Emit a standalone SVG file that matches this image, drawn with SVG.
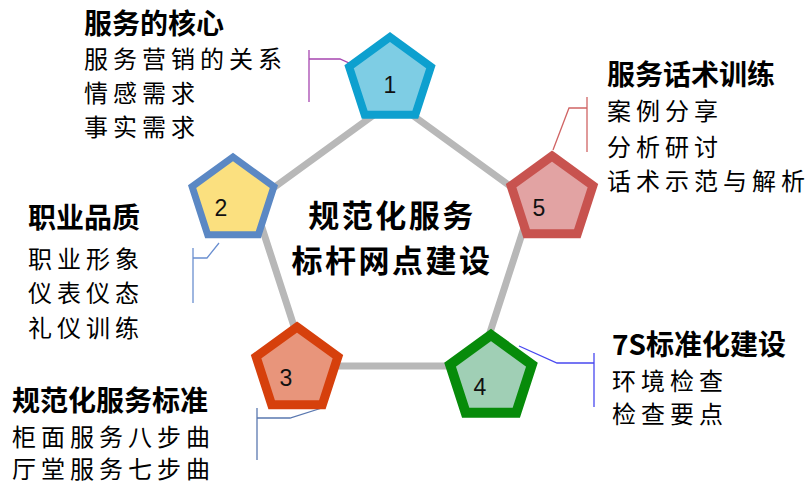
<svg xmlns="http://www.w3.org/2000/svg" xmlns:xlink="http://www.w3.org/1999/xlink" width="812" height="488" viewBox="0 0 812 488">
  <defs>
    <path id="pent" d="M0,-43 L40.9,-13.3 L25.3,34.8 L-25.3,34.8 L-40.9,-13.3 Z"/>
  </defs>
  <style>
    .num { font-family: "Liberation Sans", Arial, sans-serif; font-size: 23px; fill: #111; text-anchor: middle; }
    .title { font-family: "Noto Sans CJK SC", "Liberation Sans", sans-serif; font-size: 28px; font-weight: bold; fill: #000; }
    .sub { font-family: "Noto Sans CJK SC", sans-serif; font-size: 24px; fill: #000; letter-spacing: 5px; }
    .center { font-family: "Noto Sans CJK SC", sans-serif; font-size: 31px; font-weight: bold; fill: #000; text-anchor: middle; letter-spacing: 2.5px; }
    .ring { fill: none; stroke: #B8B8B8; stroke-width: 7; }
    .call { fill: none; stroke-width: 1.3; }
    use { stroke-linejoin: miter; }
  </style>
  <rect width="812" height="488" fill="#FFFFFF"/>

  <g id="connectors">
    <polygon class="ring" points="393,101 532.3,202.2 479.1,366 306.9,366 253.7,202.2"/>
    <polyline class="call" stroke="#A646B0" points="373,74 340,59 309,59"/>
    <line class="call" stroke="#A646B0" x1="309" y1="50" x2="309" y2="102"/>
    <polyline class="call" stroke="#6A8FD0" points="219,243 207,258 193,258"/>
    <line class="call" stroke="#6A8FD0" x1="193" y1="248" x2="193" y2="303"/>
    <polyline class="call" stroke="#5A78B0" points="325,407 290,418 257,418"/>
    <line class="call" stroke="#5A78B0" x1="257" y1="408" x2="257" y2="460"/>
    <polyline class="call" stroke="#4848F0" points="519,346 557,363 594,363"/>
    <line class="call" stroke="#4848F0" x1="594" y1="353" x2="594" y2="407"/>
    <polyline class="call" stroke="#D06464" points="553,150 569,108 587,108"/>
    <line class="call" stroke="#D06464" x1="587" y1="97" x2="587" y2="152"/>
  </g>

  <g id="center-title">
    <text class="center" x="392" y="227">规范化服务</text>
    <text class="center" x="392" y="272">标杆网点建设</text>
  </g>

  <g id="node1">
    <use href="#pent" x="390" y="80" fill="#7ECDE4" stroke="#0DA0CF" stroke-width="8"/>
    <text class="num" x="390" y="93">1</text>
    <text class="title" x="84" y="34">服务的核心</text>
    <text class="sub" x="84" y="68">服务营销的关系</text>
    <text class="sub" x="84" y="102">情感需求</text>
    <text class="sub" x="84" y="136">事实需求</text>
  </g>

  <g id="node2">
    <use href="#pent" x="233" y="200" fill="#FBE07F" stroke="#5B88C4" stroke-width="7"/>
    <text class="num" x="221" y="216">2</text>
    <text class="title" x="28" y="228">职业品质</text>
    <text class="sub" x="28" y="268">职业形象</text>
    <text class="sub" x="28" y="302">仪表仪态</text>
    <text class="sub" x="28" y="337">礼仪训练</text>
  </g>

  <g id="node3">
    <use href="#pent" x="297" y="370" fill="#E8957B" stroke="#D6400C" stroke-width="9"/>
    <text class="num" x="286" y="386">3</text>
    <text class="title" x="12" y="411">规范化服务标准</text>
    <text class="sub" x="12" y="446">柜面服务八步曲</text>
    <text class="sub" x="12" y="478">厅堂服务七步曲</text>
  </g>

  <g id="node4">
    <use href="#pent" x="491" y="378" fill="#A0CFB5" stroke="#078B0A" stroke-width="10"/>
    <text class="num" x="480" y="395">4</text>
    <text class="title" x="612" y="355">7S标准化建设</text>
    <text class="sub" x="612" y="390">环境检查</text>
    <text class="sub" x="612" y="423">检查要点</text>
  </g>

  <g id="node5">
    <use href="#pent" x="552" y="199" fill="#E2A3A3" stroke="#C8534F" stroke-width="9"/>
    <text class="num" x="539" y="216">5</text>
    <text class="title" x="607" y="85">服务话术训练</text>
    <text class="sub" x="607" y="120">案例分享</text>
    <text class="sub" x="607" y="156">分析研讨</text>
    <text class="sub" x="607" y="190">话术示范与解析</text>
  </g>
</svg>
